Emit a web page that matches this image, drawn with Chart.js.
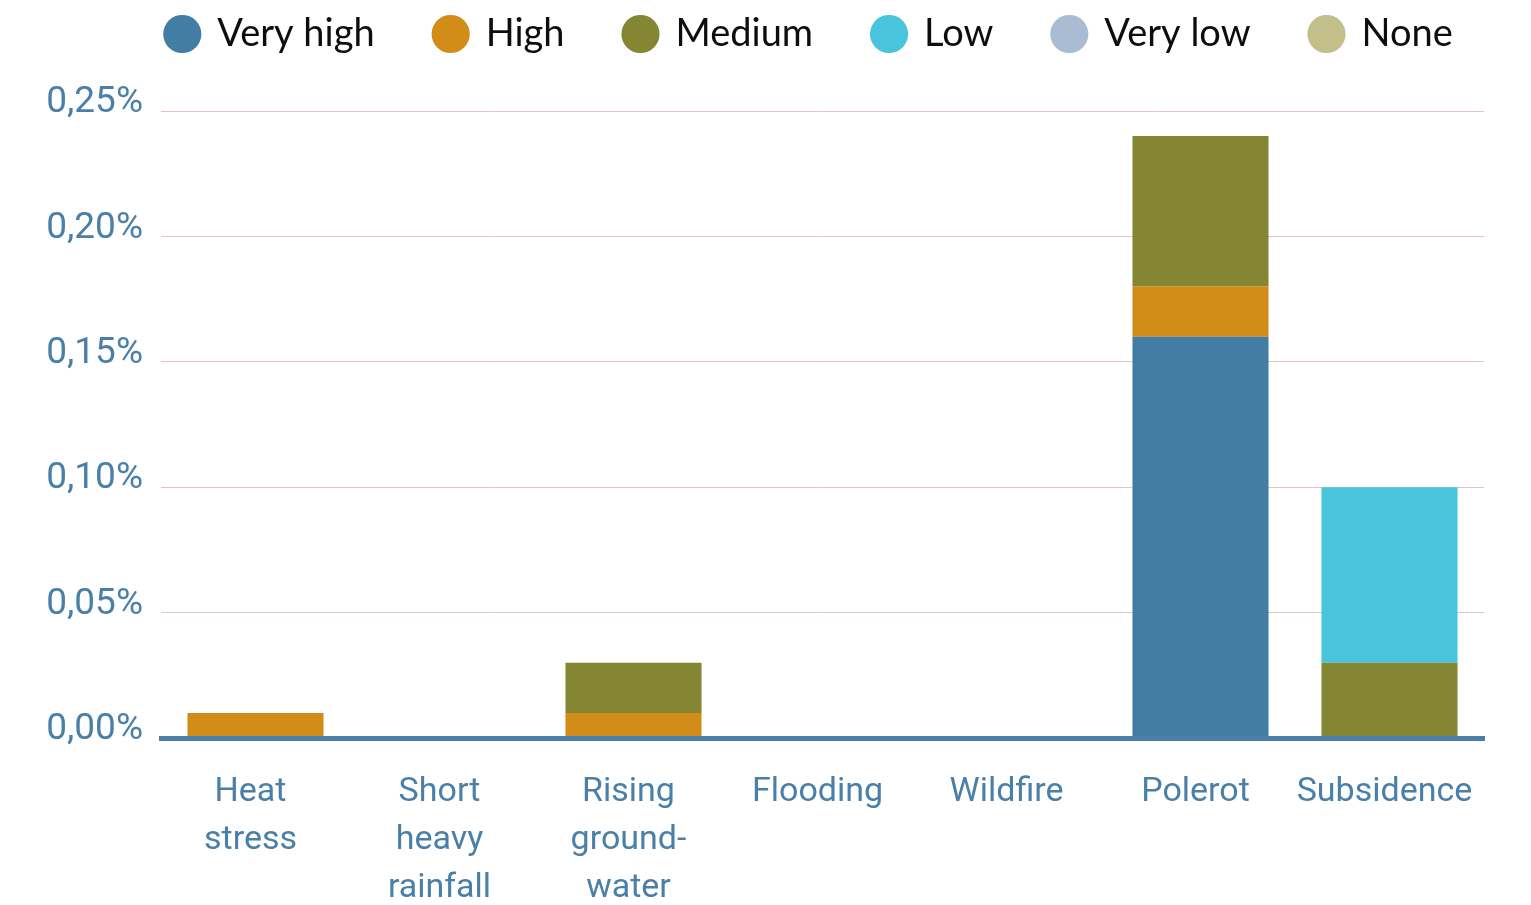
<!DOCTYPE html>
<html>
<head>
<meta charset="utf-8">
<script src="https://cdn.jsdelivr.net/npm/chart.js@4/dist/chart.umd.min.js"></script>
<style>
  html, body { margin: 0; padding: 0; background: #ffffff; }
  #wrap { width: 1531px; height: 905px; }
</style>
</head>
<body>
<div id="wrap"><canvas id="chart" width="1531" height="905"></canvas></div>
<script>
// Hazard categories along the x-axis (multi-line labels)
const categories = [
  ['Heat', 'stress'],
  ['Short', 'heavy', 'rainfall'],
  ['Rising', 'ground-', 'water'],
  ['Flooding'],
  ['Wildfire'],
  ['Polerot'],
  ['Subsidence']
];

// Share per risk class, in percent
const veryHigh = [0, 0, 0, 0, 0, 0.16, 0];
const high     = [0.01, 0, 0.01, 0, 0, 0.02, 0];
const medium   = [0, 0, 0.02, 0, 0, 0.06, 0.03];
const low      = [0, 0, 0, 0, 0, 0, 0.07];
const veryLow  = [0, 0, 0, 0, 0, 0, 0];
const none     = [0, 0, 0, 0, 0, 0, 0];

const seriesNames = ['Very high', 'High', 'Medium', 'Low', 'Very low', 'None'];
const seriesColors = ['#427ea4', '#d28c18', '#848633', '#48c4dc', '#a9bcd2', '#c2bf8a'];
const seriesValues = [veryHigh, high, medium, low, veryLow, none];

// Y-axis ticks
const yTicks = [0, 0.05, 0.10, 0.15, 0.20, 0.25];

const axisBlue = '#4a80a8';

const datasets = seriesNames.map((name, i) => ({
  label: name,
  data: seriesValues[i],
  backgroundColor: seriesColors[i],
  borderWidth: 0,
  barPercentage: 0.72,
  categoryPercentage: 1.0
}));

// Place the legend row near the top edge, roughly centred over the plot area
const legendPlacement = {
  id: 'legendPlacement',
  afterLayout(chart) {
    const lg = chart.legend;
    const area = chart.chartArea;
    const dx = (area.left + area.right) / 2 - (lg.left + lg.right) / 2 - 13;
    const dy = -48;
    lg.left += dx;
    lg.right += dx;
    lg.top += dy;
    lg.bottom += dy;
  }
};

new Chart(document.getElementById('chart'), {
  type: 'bar',
  data: { labels: categories, datasets },
  plugins: [legendPlacement],
  options: {
    responsive: false,
    animation: false,
    layout: { padding: { left: 0, right: 47, top: 0, bottom: 0 } },
    plugins: {
      tooltip: { enabled: false },
      legend: {
        position: 'top',
        align: 'center',
        labels: {
          usePointStyle: true,
          pointStyle: 'circle',
          boxWidth: 32,
          boxHeight: 27,
          padding: 60,
          color: '#0d0d0d',
          font: { family: 'Lato', size: 38 }
        }
      }
    },
    scales: {
      x: {
        stacked: true,
        grid: { display: false, drawTicks: false },
        border: { display: true, color: axisBlue, width: 5, z: 1 },
        ticks: {
          color: axisBlue,
          padding: 30,
          labelOffset: -5,
          maxRotation: 0,
          autoSkip: false,
          font: { family: 'Roboto', size: 34, lineHeight: 1.42 }
        },
        afterFit: (scale) => { scale.height = 167; }
      },
      y: {
        stacked: true,
        min: 0,
        max: 0.25,
        afterBuildTicks: (scale) => { scale.ticks = yTicks.map(v => ({ value: v })); },
        grid: { color: '#e6c3c8', lineWidth: 1, drawTicks: false },
        border: { display: false },
        ticks: {
          color: axisBlue,
          padding: 18,
          labelOffset: -8,
          font: { family: 'Roboto', size: 37 },
          callback: (v) => v.toFixed(2).replace('.', ',') + '%'
        },
        afterFit: (scale) => { scale.width = 161; scale.paddingTop = 111; }
      }
    }
  }
});
</script>
</body>
</html>
